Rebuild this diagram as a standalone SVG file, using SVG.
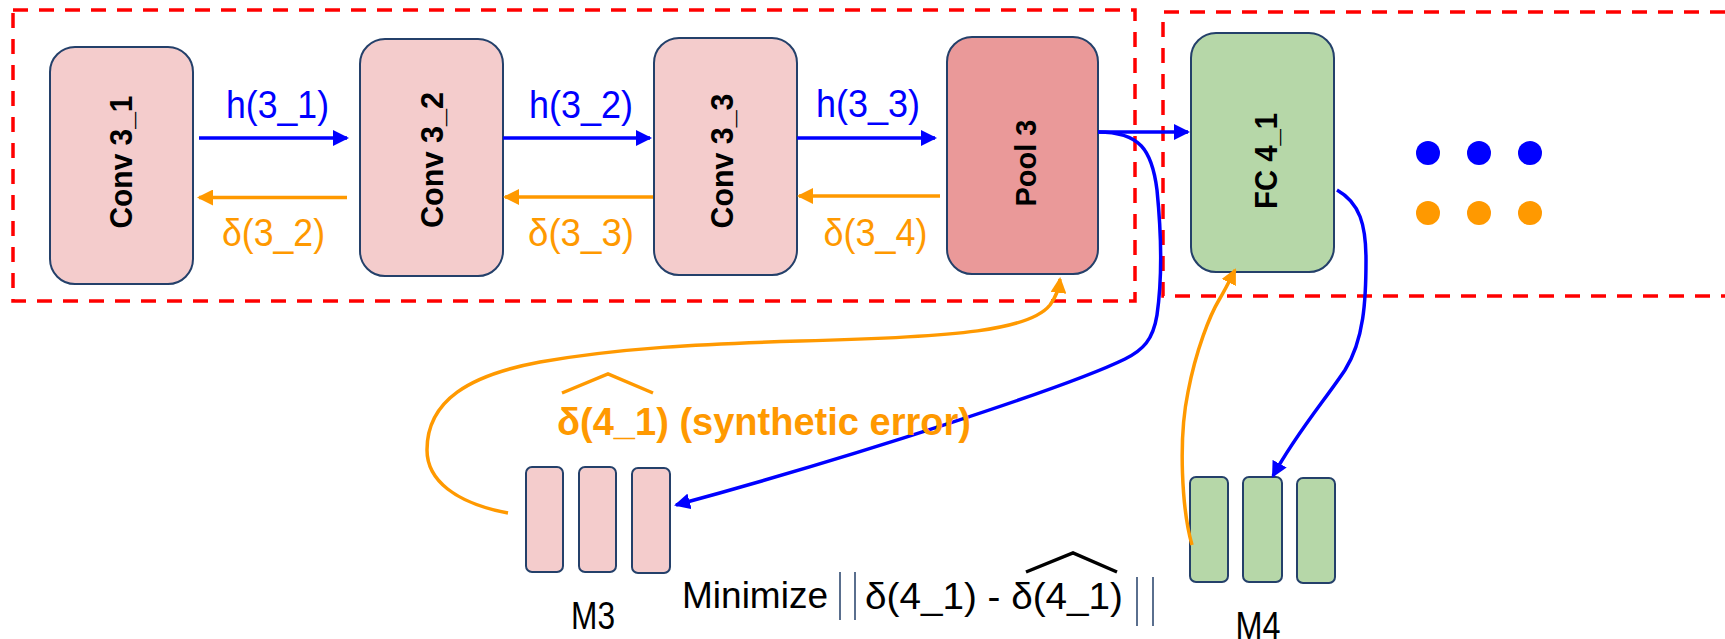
<svg xmlns="http://www.w3.org/2000/svg" width="1725" height="639" viewBox="0 0 1725 639">
<style>
.dash{fill:none;stroke:#ff0000;stroke-width:3.5;stroke-dasharray:15 11}
.box{stroke:#24406a;stroke-width:2}
.pink{fill:#f4cccc}
.pool{fill:#ea9999}
.green{fill:#b6d7a8}
.lbl{font-family:"Liberation Sans",Arial,sans-serif;font-weight:bold;font-size:32px;fill:#000;text-anchor:middle}
.t{font-family:"Liberation Sans",Arial,sans-serif;font-size:38px;text-anchor:middle}
.blueT{fill:#0000ff}
.orT{fill:#ff9900}
.blk{font-family:"Liberation Sans",Arial,sans-serif;font-size:37px;fill:#000}
.bl{fill:none;stroke:#0000ff;stroke-width:3.5}
.or{fill:none;stroke:#ff9900;stroke-width:3.5}
.bar{stroke:#24406a;stroke-width:1.5;fill:none}
</style>
<defs>
<marker id="ab" markerUnits="userSpaceOnUse" markerWidth="16" markerHeight="16" viewBox="0 0 16 16" refX="14" refY="8" orient="auto"><path d="M0,0 L16,8 L0,16 z" fill="#0000ff"/></marker>
<marker id="ao" markerUnits="userSpaceOnUse" markerWidth="16" markerHeight="16" viewBox="0 0 16 16" refX="14" refY="8" orient="auto"><path d="M0,0 L16,8 L0,16 z" fill="#ff9900"/></marker>
</defs>
<rect x="0" y="0" width="1725" height="639" fill="#ffffff"/>

<g id="groups">
<rect class="dash" x="13" y="10" width="1122" height="291"/>
<path class="dash" d="M1725,12 H1163 V296 H1725"/>
</g>

<g id="conv3_1"><rect class="box pink" x="50" y="47" width="143" height="237" rx="25"/><text class="lbl" transform="rotate(-90 120 162)" x="120" y="173.5" textLength="133" lengthAdjust="spacingAndGlyphs">Conv 3_1</text></g>
<g id="conv3_2"><rect class="box pink" x="360" y="39" width="143" height="237" rx="25"/><text class="lbl" transform="rotate(-90 431.5 160)" x="431.5" y="171.5" textLength="136" lengthAdjust="spacingAndGlyphs">Conv 3_2</text></g>
<g id="conv3_3"><rect class="box pink" x="654" y="38" width="143" height="237" rx="25"/><text class="lbl" transform="rotate(-90 721.5 161)" x="721.5" y="172.5" textLength="135" lengthAdjust="spacingAndGlyphs">Conv 3_3</text></g>
<g id="pool3"><rect class="box pool" x="947" y="37" width="151" height="237" rx="25"/><text class="lbl" transform="rotate(-90 1025 163)" x="1025" y="173.5" style="font-size:29px" textLength="87" lengthAdjust="spacingAndGlyphs">Pool 3</text></g>
<g id="fc4_1"><rect class="box green" x="1191" y="33" width="143" height="239" rx="25"/><text class="lbl" transform="rotate(-90 1265 161)" x="1265" y="172.5" textLength="96" lengthAdjust="spacingAndGlyphs">FC 4_1</text></g>

<g id="dots">
<circle cx="1428" cy="153" r="12" fill="#0000ff"/><circle cx="1479" cy="153" r="12" fill="#0000ff"/><circle cx="1530" cy="153" r="12" fill="#0000ff"/>
<circle cx="1428" cy="213" r="12" fill="#ff9900"/><circle cx="1479" cy="213" r="12" fill="#ff9900"/><circle cx="1530" cy="213" r="12" fill="#ff9900"/>
</g>

<g id="m3">
<rect class="box pink" x="526" y="467" width="37" height="105" rx="6"/>
<rect class="box pink" x="579" y="467" width="37" height="105" rx="6"/>
<rect class="box pink" x="632" y="468" width="38" height="105" rx="6"/>
<text class="t" x="593" y="629" fill="#000" textLength="44" lengthAdjust="spacingAndGlyphs">M3</text>
</g>
<g id="m4">
<rect class="box green" x="1190" y="477" width="38" height="105" rx="6"/>
<rect class="box green" x="1243" y="477" width="39" height="105" rx="6"/>
<rect class="box green" x="1297" y="478" width="38" height="105" rx="6"/>
<text class="t" x="1258" y="639" fill="#000" textLength="45" lengthAdjust="spacingAndGlyphs">M4</text>
</g>

<g id="connectors">
<path class="bl" d="M199,138 H347" marker-end="url(#ab)"/>
<path class="bl" d="M503,138 H650" marker-end="url(#ab)"/>
<path class="bl" d="M797,138 H935" marker-end="url(#ab)"/>
<path class="or" d="M347,197.5 H199" marker-end="url(#ao)"/>
<path class="or" d="M653,197 H505" marker-end="url(#ao)"/>
<path class="or" d="M940,196 H799" marker-end="url(#ao)"/>
<path class="bl" d="M1098,132 H1188" marker-end="url(#ab)"/>
<path class="bl" d="M1098,132 C1140,132 1152,150 1157,190 C1162,240 1162,280 1157,315 C1153,340 1143,350 1125,359 C1070,386 860,455 676,505" marker-end="url(#ab)"/>
<path class="or" d="M508,513 C455,503 427,480 427,450 C427,400 470,375 540,362 C620,348 700,344 800,341 C960,337 1030,330 1050,305 C1056,297 1059,288 1060,279" marker-end="url(#ao)"/>
<path class="bl" d="M1337,190 C1360,203 1366,225 1366,260 C1366,300 1364,340 1345,370 C1325,400 1295,435 1273,476" marker-end="url(#ab)"/>
<path class="or" d="M1192,545 C1182,510 1178,440 1188,392 C1196,350 1210,315 1219,300 C1225,290 1230,280 1235,270" marker-end="url(#ao)"/>
</g>

<g id="labels">
<text class="t blueT" x="277.5" y="118" textLength="103" lengthAdjust="spacingAndGlyphs">h(3_1)</text>
<text class="t blueT" x="581" y="118" textLength="104" lengthAdjust="spacingAndGlyphs">h(3_2)</text>
<text class="t blueT" x="868" y="117" textLength="104" lengthAdjust="spacingAndGlyphs">h(3_3)</text>
<text class="t orT" x="273.5" y="246" textLength="103" lengthAdjust="spacingAndGlyphs">δ(3_2)</text>
<text class="t orT" x="581" y="246" textLength="106" lengthAdjust="spacingAndGlyphs">δ(3_3)</text>
<text class="t orT" x="875.5" y="246" textLength="104" lengthAdjust="spacingAndGlyphs">δ(3_4)</text>
<path d="M562,393 L608,374 L653,393" fill="none" stroke="#ff9900" stroke-width="3.5"/>
<text x="557" y="435" textLength="414" lengthAdjust="spacingAndGlyphs" style="font-family:'Liberation Sans',Arial,sans-serif;font-weight:bold;font-size:38px;fill:#ff9900">δ(4_1) (synthetic error)</text>
<text class="blk" x="682" y="608" textLength="146" lengthAdjust="spacingAndGlyphs">Minimize</text>
<path class="bar" d="M840,572 V620 M855,572 V620 M1137,577 V626 M1153,577 V626"/>
<text class="blk" x="865" y="609" textLength="258" lengthAdjust="spacingAndGlyphs">δ(4_1) - δ(4_1)</text>
<path d="M1026,572 L1073,553 L1117,572" fill="none" stroke="#000" stroke-width="3.5"/>
</g>
</svg>
